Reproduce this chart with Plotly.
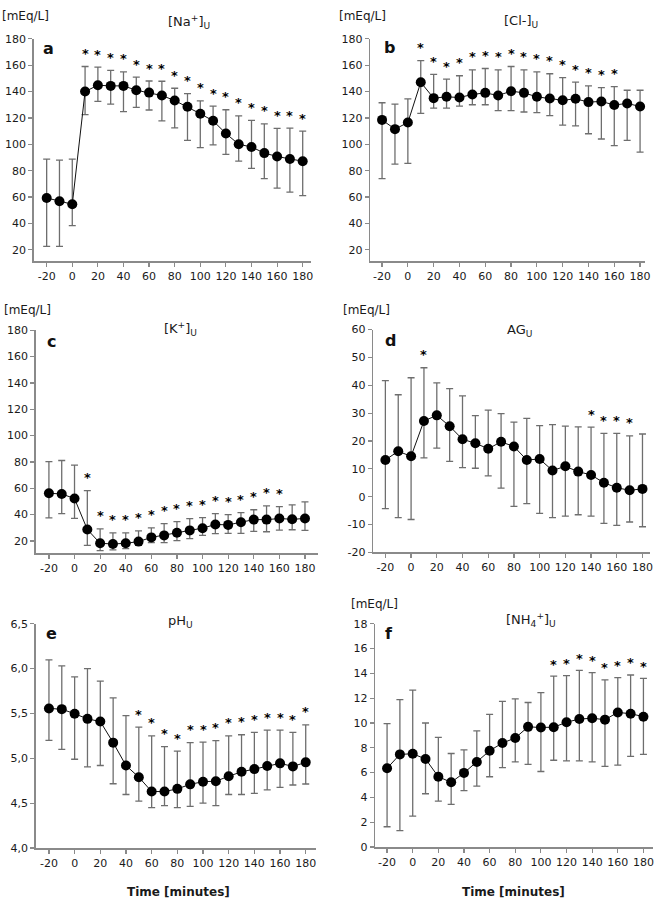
import plotly.graph_objects as go

W, H = 664, 908

time = [-20, -10, 0, 10, 20, 30, 40, 50, 60, 70, 80, 90, 100, 110, 120, 130, 140, 150, 160, 170, 180]
x_ticks = [-20, 0, 20, 40, 60, 80, 100, 120, 140, 160, 180]
x_tick_text = ["-20", "0", "20", "40", "60", "80", "100", "120", "140", "160", "180"]

na_mean = [59.3, 56.8, 54.5, 140, 144.8, 144.3, 144.3, 141, 139.2, 137, 133.2, 128.5, 123.2, 117.8, 108.2, 100, 98, 93.3, 90.8, 88.9, 87.2]
na_upper = [88.8, 88, 88.8, 159, 158.5, 156, 155, 151, 148, 147.8, 142.5, 138.5, 133, 128.9, 126.2, 121.5, 118.2, 115.5, 112, 112.2, 110]
na_lower = [22.5, 22.5, 38.3, 122.5, 132.5, 130.5, 124.8, 128, 126, 117.8, 112.5, 103, 97.5, 99.5, 92.4, 87.2, 81.7, 74, 66.7, 63.7, 61]
na_sig = [0, 0, 0, 1, 1, 1, 1, 1, 1, 1, 1, 1, 1, 1, 1, 1, 1, 1, 1, 1, 1]

cl_mean = [118.5, 111.5, 116.5, 147, 135, 136, 135.5, 137.8, 139, 137, 140.3, 139, 136, 134.7, 133.4, 134.5, 132, 132.5, 129.8, 131, 128.7]
cl_upper = [131.5, 130.5, 134.5, 163.5, 153, 149.5, 152, 156.5, 157.5, 156.5, 159, 156.5, 155, 153.5, 150.5, 147.1, 144.3, 143, 143.8, 141, 141]
cl_lower = [74, 85, 85.5, 123.5, 127.5, 127.5, 129, 130, 130, 125.5, 125.5, 124.5, 124, 121.7, 114.6, 114, 108, 104, 99, 103, 94]
cl_sig = [0, 0, 0, 1, 1, 1, 1, 1, 1, 1, 1, 1, 1, 1, 1, 1, 1, 1, 1, 0, 0]

k_mean = [56.2, 55.7, 52.2, 28.7, 18.2, 17.7, 18.2, 19.5, 22.7, 24.2, 26.2, 28, 29.7, 32.5, 32.2, 34.2, 36.2, 36.2, 37, 36.5, 37]
k_upper = [80.2, 81.1, 77.6, 58.2, 29.2, 26.2, 26.2, 27.7, 30, 33.2, 34.7, 37, 37.7, 40.7, 40, 41.5, 43.7, 46.7, 46, 47.4, 49.7]
k_lower = [37.5, 40.7, 37.2, 16.7, 12.7, 13.2, 14.2, 16.7, 18.7, 18.7, 20.2, 21.7, 24.2, 25.5, 25.7, 25.7, 27.2, 27, 28.2, 28.5, 28]
k_sig = [0, 0, 0, 1, 1, 1, 1, 1, 1, 1, 1, 1, 1, 1, 1, 1, 1, 1, 1, 0, 0]

ag_mean = [13.2, 16.3, 14.5, 27.2, 29.2, 25.3, 20.6, 19.2, 17.2, 19.7, 18, 13.2, 13.5, 9.4, 10.9, 9, 7.8, 5, 3.2, 2.3, 2.8]
ag_upper = [41.7, 36.6, 42.7, 46.3, 40.9, 38.8, 36.2, 29.1, 31.1, 29.8, 26.8, 28.1, 25.5, 25.9, 25.3, 25.1, 25, 22.7, 22.7, 21.8, 22.5]
ag_lower = [-4.3, -7.5, -8.2, 13.9, 17.4, 12.7, 10.4, 10.2, 7.5, 3.1, -3.5, -2.5, -6, -7.5, -7, -6.5, -7, -9.6, -10.3, -9.1, -10.8]
ag_sig = [0, 0, 0, 1, 0, 0, 0, 0, 0, 0, 0, 0, 0, 0, 0, 0, 1, 1, 1, 1, 0]

ph_mean = [5.556, 5.548, 5.497, 5.44, 5.41, 5.175, 4.92, 4.79, 4.63, 4.63, 4.66, 4.71, 4.74, 4.745, 4.80, 4.85, 4.88, 4.915, 4.944, 4.91, 4.955]
ph_upper = [6.097, 6.03, 5.907, 6.0, 5.86, 5.673, 5.475, 5.347, 5.25, 5.13, 5.08, 5.175, 5.18, 5.197, 5.25, 5.263, 5.29, 5.314, 5.314, 5.29, 5.373]
ph_lower = [5.2, 5.1, 4.99, 4.904, 4.92, 4.717, 4.597, 4.523, 4.45, 4.472, 4.45, 4.465, 4.5, 4.472, 4.597, 4.597, 4.61, 4.648, 4.677, 4.703, 4.714]
ph_sig = [0, 0, 0, 0, 0, 0, 0, 1, 1, 1, 1, 1, 1, 1, 1, 1, 1, 1, 1, 1, 1]

nh4_mean = [6.35, 7.47, 7.52, 7.1, 5.67, 5.22, 5.98, 6.86, 7.76, 8.39, 8.79, 9.69, 9.64, 9.66, 10.06, 10.32, 10.38, 10.27, 10.85, 10.75, 10.51]
nh4_upper = [9.95, 11.89, 12.65, 10.0, 8.84, 7.54, 7.84, 9.37, 10.7, 11.75, 11.94, 11.65, 12.44, 13.77, 13.82, 14.24, 14.06, 13.47, 13.66, 13.87, 13.6]
nh4_lower = [1.64, 1.32, 2.5, 4.3, 3.7, 3.44, 4.55, 4.92, 5.67, 6.41, 6.86, 6.67, 6.09, 7.0, 6.95, 6.95, 6.86, 6.5, 6.6, 7.31, 7.47]
nh4_sig = [0, 0, 0, 0, 0, 0, 0, 0, 0, 0, 0, 0, 0, 1, 1, 1, 1, 1, 1, 1, 1]

ticks_180 = [20, 40, 60, 80, 100, 120, 140, 160, 180]
ticks_ag = [-20, -10, 0, 10, 20, 30, 40, 50, 60]
ticks_ag_text = ["-20", "-10", "0", "10", "20", "30", "40", "50", "60"]
ticks_ph = [4.0, 4.5, 5.0, 5.5, 6.0, 6.5]
ticks_ph_text = ["4,0", "4,5", "5,0", "5,5", "6,0", "6,5"]
ticks_nh4 = [0, 2, 4, 6, 8, 10, 12, 14, 16, 18]

FONT = "DejaVu Sans, Arial, sans-serif"

panels = [
    dict(mean=na_mean, up=na_upper, lo=na_lower, sig=na_sig,
         px=(34, 313), xr=(-30.1, 186.2), py=(33.3, 259), yr=(11.25, 180),
         yt=ticks_180, ytt=None, title="[Na<sup>+</sup>]<sub>U</sub>", tpos=(190, 16),
         unit=(26, 10), letter="a", lpos=(49, 43), star_shift=13),
    dict(mean=cl_mean, up=cl_upper, lo=cl_lower, sig=cl_sig,
         px=(373, 650), xr=(-29.2, 183.9), py=(33.3, 259), yr=(11.25, 180),
         yt=ticks_180, ytt=None, title="[Cl-]<sub>U</sub>", tpos=(525, 16),
         unit=(365, 10), letter="b", lpos=(392, 42), star_shift=13),
    dict(mean=k_mean, up=k_upper, lo=k_lower, sig=k_sig,
         px=(36, 320.7), xr=(-30.3, 190.4), py=(329, 555), yr=(10.8, 180),
         yt=ticks_180, ytt=None, title="[K<sup>+</sup>]<sub>U</sub>", tpos=(182, 328),
         unit=(28, 308), letter="c", lpos=(52, 340), star_shift=13),
    dict(mean=ag_mean, up=ag_upper, lo=ag_lower, sig=ag_sig,
         px=(376, 655), xr=(-29.5, 185.9), py=(328.3, 554.3), yr=(-20, 60),
         yt=ticks_ag, ytt=ticks_ag_text, title="AG<sub>U</sub>", tpos=(523, 329),
         unit=(369, 308), letter="d", lpos=(393, 339), star_shift=13),
    dict(mean=ph_mean, up=ph_upper, lo=ph_lower, sig=ph_sig,
         px=(36, 318), xr=(-30.3, 187.7), py=(626.7, 854.3), yr=(4.0, 6.5),
         yt=ticks_ph, ytt=ticks_ph_text, title="pH<sub>U</sub>", tpos=(182, 624),
         unit=None, letter="e", lpos=(52, 637), star_shift=13),
    dict(mean=nh4_mean, up=nh4_upper, lo=nh4_lower, sig=nh4_sig,
         px=(378, 658), xr=(-29.3, 187.5), py=(626.7, 853.3), yr=(0, 18),
         yt=ticks_nh4, ytt=None, title="[NH<sub>4</sub><sup>+</sup>]<sub>U</sub>", tpos=(535, 623),
         unit=(377, 607), letter="f", lpos=(392, 637), star_shift=12),
]

fig = go.Figure()
annotations = []
layout = dict(width=W, height=H, autosize=False, margin=dict(l=0, r=0, t=0, b=0),
              plot_bgcolor="white", paper_bgcolor="white", showlegend=False,
              font=dict(family=FONT, color="#1a1a1a"))


def fx(p):
    return p / W


def fy(p):
    return 1 - p / H


axis_common = dict(showline=True, linecolor="#8a8a8a", linewidth=1.5, ticks="outside",
                   ticklen=4, tickwidth=1.2, tickcolor="#8a8a8a", showgrid=False,
                   zeroline=False, tickfont=dict(family=FONT, size=11, color="#1a1a1a"),
                   fixedrange=True)

for i, p in enumerate(panels, start=1):
    xa = "x" if i == 1 else f"x{i}"
    ya = "y" if i == 1 else f"y{i}"
    err_plus = [u - m for u, m in zip(p["up"], p["mean"])]
    err_minus = [m - l for m, l in zip(p["mean"], p["lo"])]
    fig.add_trace(go.Scatter(
        x=time, y=p["mean"], mode="lines+markers", xaxis=xa, yaxis=ya,
        line=dict(color="#111111", width=1),
        marker=dict(size=10, color="black"),
        error_y=dict(type="data", symmetric=False, array=err_plus, arrayminus=err_minus,
                     color="#6e6e6e", thickness=1.3, width=3.5),
        cliponaxis=False, hoverinfo="skip",
    ))
    xkey = "xaxis" if i == 1 else f"xaxis{i}"
    ykey = "yaxis" if i == 1 else f"yaxis{i}"
    layout[xkey] = dict(axis_common, domain=[fx(p["px"][0]), fx(p["px"][1])], range=list(p["xr"]),
                        tickvals=x_ticks, ticktext=x_tick_text, anchor=ya)
    ydict = dict(axis_common, domain=[fy(p["py"][1]), fy(p["py"][0])], range=list(p["yr"]),
                 tickvals=p["yt"], anchor=xa)
    if p["ytt"]:
        ydict["ticktext"] = p["ytt"]
    layout[ykey] = ydict

    # significance stars above the upper error bar
    for t, s, u in zip(time, p["sig"], p["up"]):
        if s:
            annotations.append(dict(x=t, y=u, xref=xa, yref=ya, text="<b>*</b>", showarrow=False,
                                    yanchor="middle", yshift=p["star_shift"],
                                    font=dict(family=FONT, size=13, color="black")))
    annotations.append(dict(x=fx(p["tpos"][0]), y=fy(p["tpos"][1]), xref="paper", yref="paper",
                            text=p["title"], showarrow=False, xanchor="center", yanchor="middle",
                            font=dict(family=FONT, size=13, color="#1a1a1a")))
    if p["unit"]:
        annotations.append(dict(x=fx(p["unit"][0]), y=fy(p["unit"][1]), xref="paper", yref="paper",
                                text="[mEq/L]", showarrow=False, xanchor="center", yanchor="middle",
                                font=dict(family=FONT, size=12, color="#1a1a1a")))
    annotations.append(dict(x=fx(p["lpos"][0]), y=fy(p["lpos"][1]), xref="paper", yref="paper",
                            text=f"<b>{p['letter']}</b>", showarrow=False, xanchor="center",
                            yanchor="middle", font=dict(family=FONT, size=16, color="#111111")))

for cx in (180, 517):
    annotations.append(dict(x=fx(cx), y=fy(899), xref="paper", yref="paper",
                            text="<b>Time [minutes]</b>", showarrow=False, xanchor="center",
                            yanchor="middle", font=dict(family=FONT, size=12, color="#1a1a1a")))

layout["annotations"] = annotations
fig.update_layout(**layout)
fig.write_html("out.html", config={"displayModeBar": False, "staticPlot": True},
               post_script="document.body.style.margin='0';document.body.style.padding='0';")
